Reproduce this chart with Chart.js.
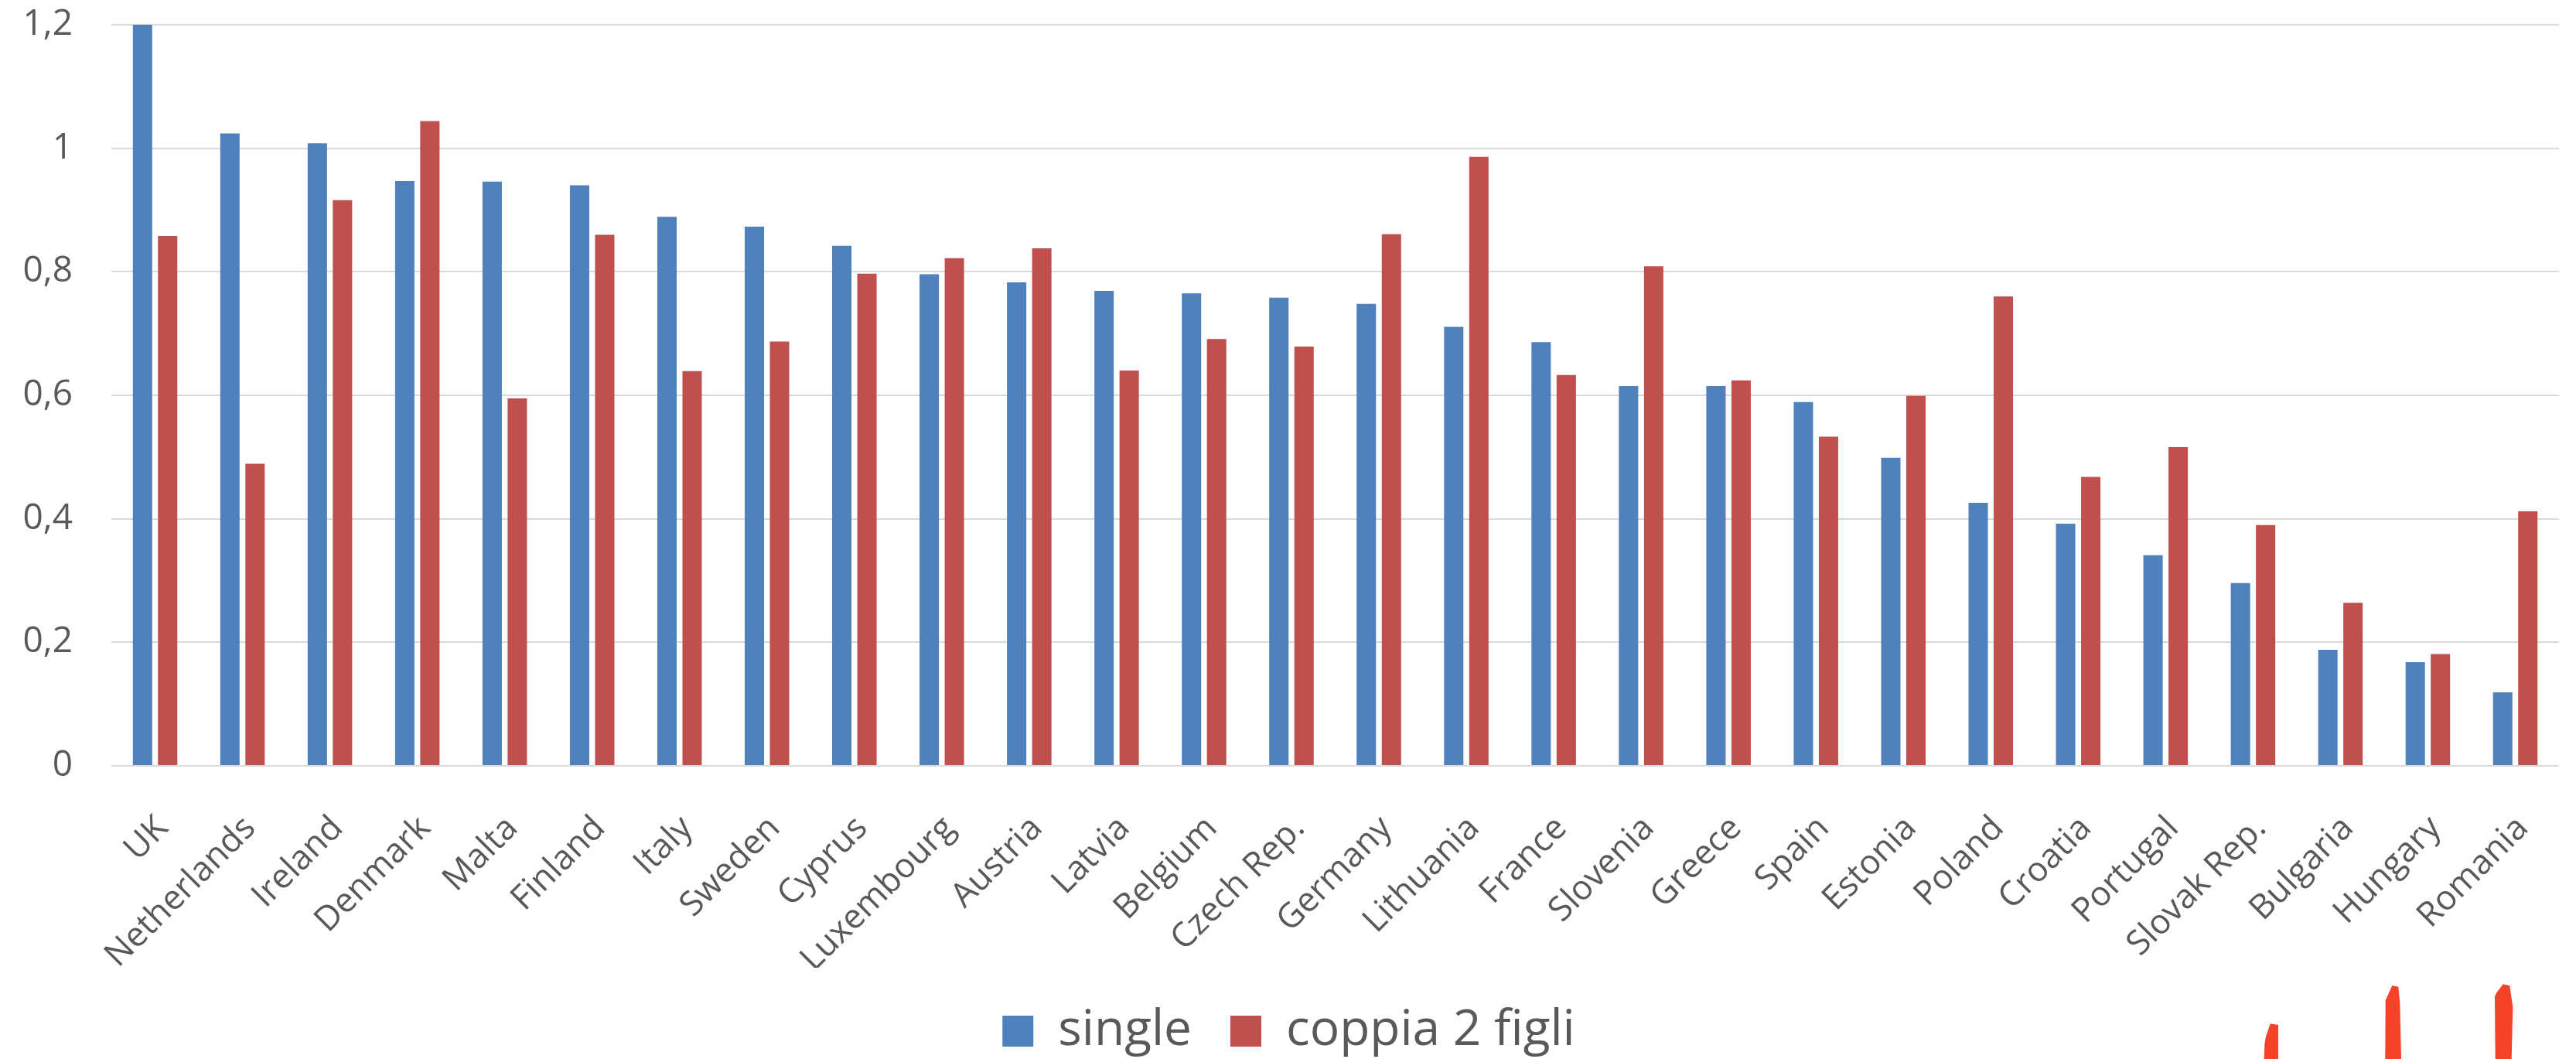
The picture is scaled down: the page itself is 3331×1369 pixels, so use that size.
<!DOCTYPE html>
<html>
<head>
<meta charset="utf-8">
<title>single / coppia 2 figli</title>
<script src="https://cdn.jsdelivr.net/npm/chart.js@4"></script>
<style>
  html, body { margin: 0; padding: 0; background: #ffffff; }
  #wrap { width: 3331px; height: 1369px; }
</style>
</head>
<body>
<div id="wrap"><canvas id="chart" width="3331" height="1369"></canvas></div>
<script>
// Countries, in the order shown on the x axis
const countries = ['UK', 'Netherlands', 'Ireland', 'Denmark', 'Malta', 'Finland', 'Italy', 'Sweden',
  'Cyprus', 'Luxembourg', 'Austria', 'Latvia', 'Belgium', 'Czech Rep.', 'Germany', 'Lithuania',
  'France', 'Slovenia', 'Greece', 'Spain', 'Estonia', 'Poland', 'Croatia', 'Portugal',
  'Slovak Rep.', 'Bulgaria', 'Hungary', 'Romania'];

// Series values
const singleValues = [1.2, 1.024, 1.008, 0.947, 0.946, 0.940, 0.889, 0.873,
  0.842, 0.796, 0.783, 0.769, 0.765, 0.758, 0.748, 0.711,
  0.686, 0.615, 0.615, 0.589, 0.499, 0.426, 0.392, 0.341,
  0.296, 0.188, 0.168, 0.119];
const coppiaValues = [0.858, 0.489, 0.916, 1.044, 0.595, 0.860, 0.639, 0.687,
  0.797, 0.822, 0.838, 0.640, 0.691, 0.679, 0.861, 0.986,
  0.633, 0.809, 0.624, 0.533, 0.599, 0.760, 0.468, 0.516,
  0.390, 0.264, 0.181, 0.412];

// Y axis tick labels (decimal comma)
const yTickLabels = ['0', '0,2', '0,4', '0,6', '0,8', '1', '1,2'];

const seriesNames = ['single', 'coppia 2 figli'];
const seriesColors = ['#4F81BD', '#C0504D'];

const textColor = '#595959';
const gridColor = '#D9D9D9';
const fontFamily = '"Open Sans", "Noto Sans", sans-serif';

// Red pen strokes drawn over the lower right corner
const penStrokes = {
  id: 'penStrokes',
  afterDraw(chart) {
    const ctx = chart.ctx;
    const shapes = [
      [[2927.7, 1369], [2928.3, 1350], [2930, 1340], [2935.7, 1323.3], [2946, 1325], [2946, 1369]],
      [[3084.3, 1369], [3084.7, 1293.3], [3093.3, 1274], [3101.3, 1275.7], [3103.3, 1296.7], [3105, 1369]],
      [[3226.7, 1369], [3226, 1288.3], [3228.3, 1283.3], [3236.7, 1272.3], [3245.3, 1274.3], [3249.3, 1301.7], [3247.7, 1369]]
    ];
    ctx.save();
    ctx.fillStyle = '#F44329';
    shapes.forEach(pts => {
      ctx.beginPath();
      pts.forEach((p, i) => (i ? ctx.lineTo(p[0], p[1]) : ctx.moveTo(p[0], p[1])));
      ctx.closePath();
      ctx.fill();
    });
    ctx.restore();
  }
};

new Chart(document.getElementById('chart'), {
  type: 'bar',
  data: {
    labels: countries,
    datasets: [
      { label: seriesNames[0], data: singleValues, backgroundColor: seriesColors[0] },
      { label: seriesNames[1], data: coppiaValues, backgroundColor: seriesColors[1] }
    ]
  },
  options: {
    responsive: false,
    animation: false,
    devicePixelRatio: 1,
    datasets: {
      bar: { categoryPercentage: 0.575, barPercentage: 0.77, borderWidth: 0 }
    },
    layout: { padding: { top: 32, right: 22, left: 24, bottom: 0 } },
    plugins: {
      tooltip: { enabled: false },
      legend: {
        position: 'bottom',
        align: 'center',
        maxHeight: 118,
        labels: {
          boxWidth: 40,
          boxHeight: 40,
          padding: 50,
          color: textColor,
          font: { family: fontFamily, size: 64 }
        }
      }
    },
    scales: {
      x: {
        // invisible tick marks keep the rotated labels clear of the axis
        grid: { display: false, drawTicks: true, tickLength: 55 },
        border: { display: false },
        ticks: {
          color: textColor,
          font: { family: fontFamily, size: 44 },
          minRotation: 45,
          maxRotation: 45,
          autoSkip: false,
          padding: 0,
          labelOffset: 10
        },
        afterFit(scale) { scale.height = 261; }
      },
      y: {
        min: 0,
        max: 1.2,
        grid: { color: gridColor, lineWidth: 2, drawTicks: true, tickLength: 50, tickColor: 'rgba(0,0,0,0)' },
        border: { display: false },
        ticks: {
          stepSize: 0.2,
          color: textColor,
          padding: 0,
          font: { family: fontFamily, size: 46 },
          callback: (value, index) => yTickLabels[index]
        },
        afterFit(scale) { scale.width = 120; }
      }
    }
  },
  plugins: [penStrokes]
});
</script>
</body>
</html>
